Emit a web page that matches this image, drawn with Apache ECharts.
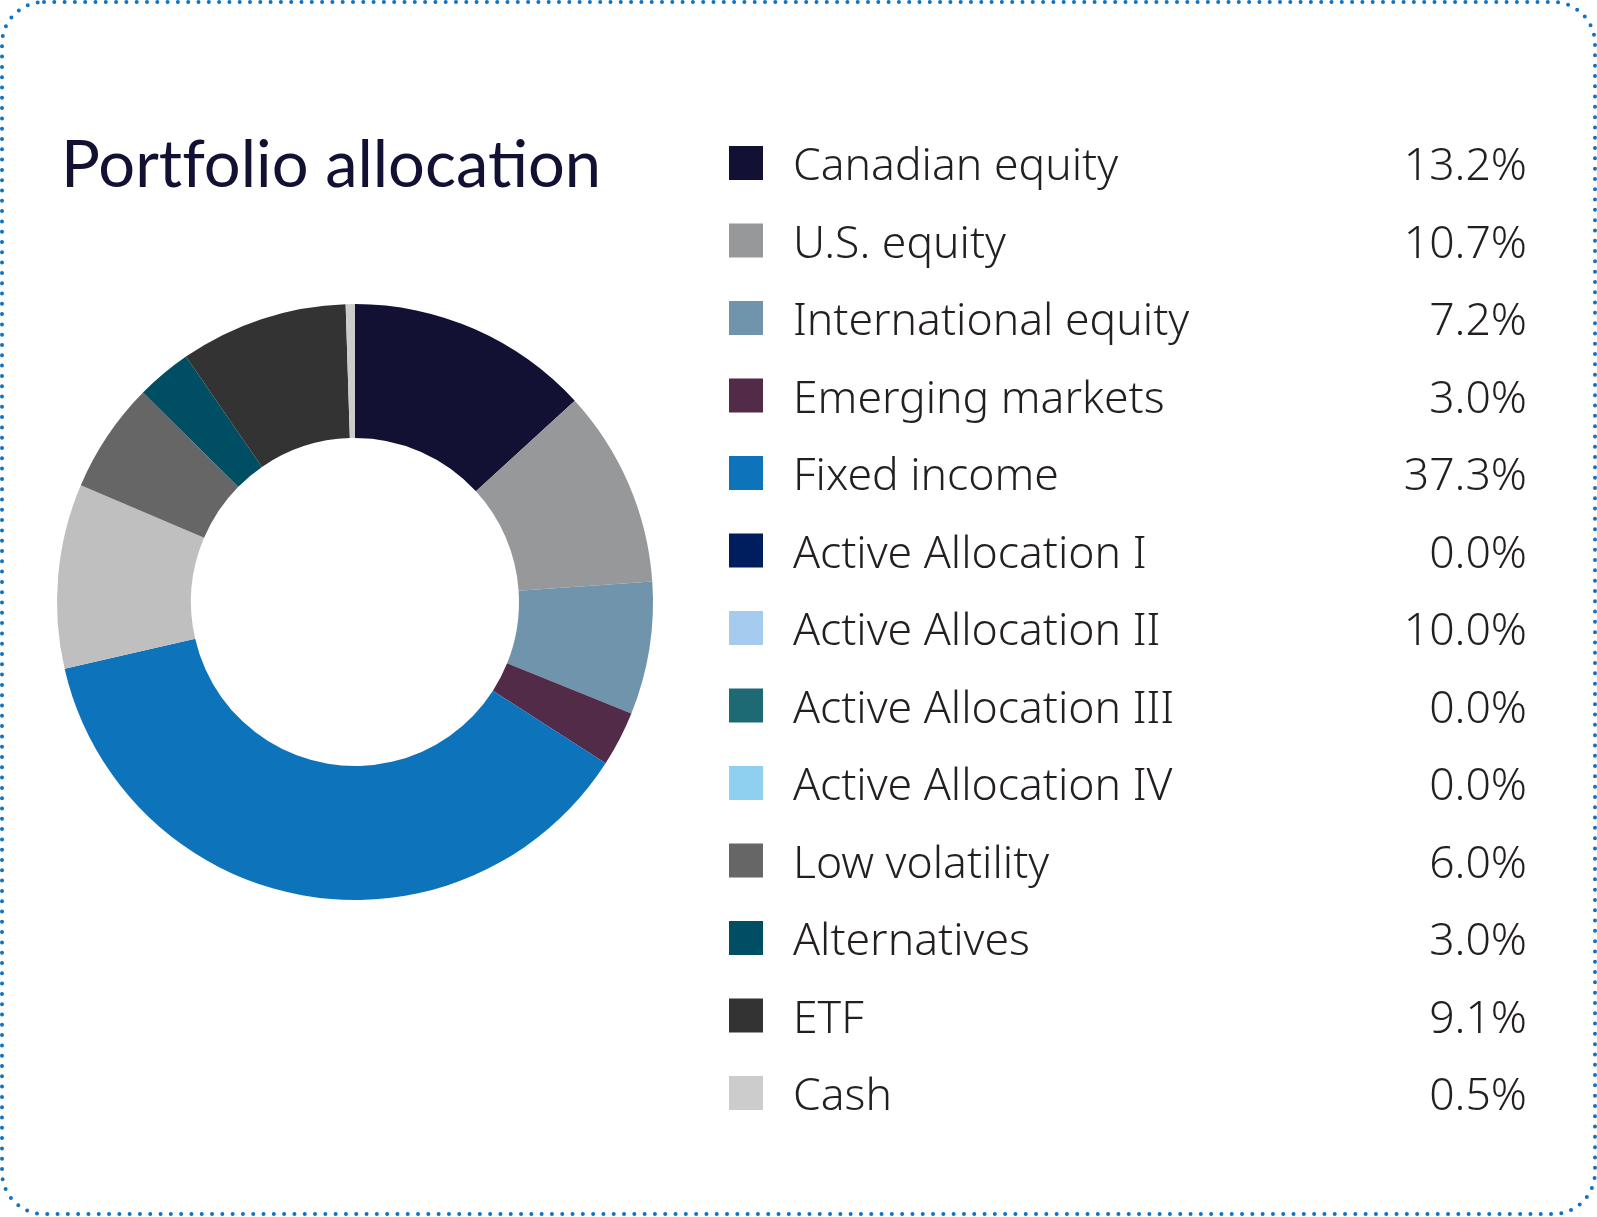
<!DOCTYPE html>
<html>
<head>
<meta charset="utf-8">
<title>Portfolio allocation</title>
<script src="https://cdn.jsdelivr.net/npm/echarts@6/dist/echarts.min.js"></script>
<style>
  html, body { margin: 0; padding: 0; background: #fff; }
  #chart { width: 1597px; height: 1217px; }
</style>
</head>
<body>
<div id="chart"></div>
<script>
// categories and weights (%), in legend / slice order
var categories = [
    'Canadian equity', 'U.S. equity', 'International equity', 'Emerging markets',
    'Fixed income', 'Active Allocation I', 'Active Allocation II', 'Active Allocation III',
    'Active Allocation IV', 'Low volatility', 'Alternatives', 'ETF', 'Cash'
];
var weights = [13.2, 10.7, 7.2, 3.0, 37.3, 0.0, 10.0, 0.0, 0.0, 6.0, 3.0, 9.1, 0.5];

// swatch colours shown in the legend
var legendColors = [
    '#121133', '#97989a', '#7094ab', '#522b48', '#0d74bc', '#001e5e', '#a5cbee',
    '#1e6a74', '#8fd0f0', '#666666', '#004e64', '#333333', '#cccccc'
];
// the donut draws Active Allocation II in grey
var sliceColors = legendColors.slice();
sliceColors[6] = '#bfbfbf';

var chart = echarts.init(document.getElementById('chart'));

function fmtPct(v) {
    return v.toFixed(1) + '%';
}

var txt = {
    fontFamily: '"Noto Sans"',
    fontSize: 44.5,
    fontWeight: 300,
    color: '#231f20'
};

var option = {
    animation: false,
    title: {
        // zero-width non-joiners keep Lato from building tf / ti ligatures
        text: 'Port\u200Cfolio alloca\u200Ction',
        left: 56,
        top: 129,
        textStyle: {
            fontFamily: 'Lato',
            fontSize: 65,
            fontWeight: 'normal',
            color: '#121133'
        }
    },
    legend: {
        orient: 'vertical',
        left: 724,
        top: 131,
        itemWidth: 34,
        itemHeight: 34,
        itemGap: 23.5,
        icon: 'rect',
        selectedMode: false,
        data: categories.map(function (name, i) {
            return { name: name, itemStyle: { color: legendColors[i] } };
        }),
        formatter: function (name) {
            var v = weights[categories.indexOf(name)];
            return '{n|' + name + '}{v|' + fmtPct(v) + '}';
        },
        textStyle: Object.assign({}, txt, {
            rich: {
                n: Object.assign({}, txt, {
                    width: 593,
                    lineHeight: 34,
                    padding: [9, 0, 0, 25]
                }),
                v: Object.assign({}, txt, {
                    width: 141,
                    align: 'right',
                    lineHeight: 34,
                    padding: [9, 0, 0, 0]
                })
            }
        })
    },
    series: [{
        type: 'pie',
        center: [355, 602],
        radius: [164, 298],
        startAngle: 90,
        clockwise: true,
        silent: true,
        label: { show: false },
        labelLine: { show: false },
        itemStyle: { borderWidth: 0 },
        data: categories.map(function (name, i) {
            return { name: name, value: weights[i], itemStyle: { color: sliceColors[i] } };
        })
    }],
    graphic: [{
        type: 'rect',
        silent: true,
        shape: { x: 2, y: 2, width: 1593, height: 1212, r: 42 },
        style: {
            fill: 'none',
            stroke: '#0f72c2',
            lineWidth: 4,
            lineCap: 'round',
            lineDash: [0, 10.3]
        }
    }]
};

chart.setOption(option);
</script>
</body>
</html>
